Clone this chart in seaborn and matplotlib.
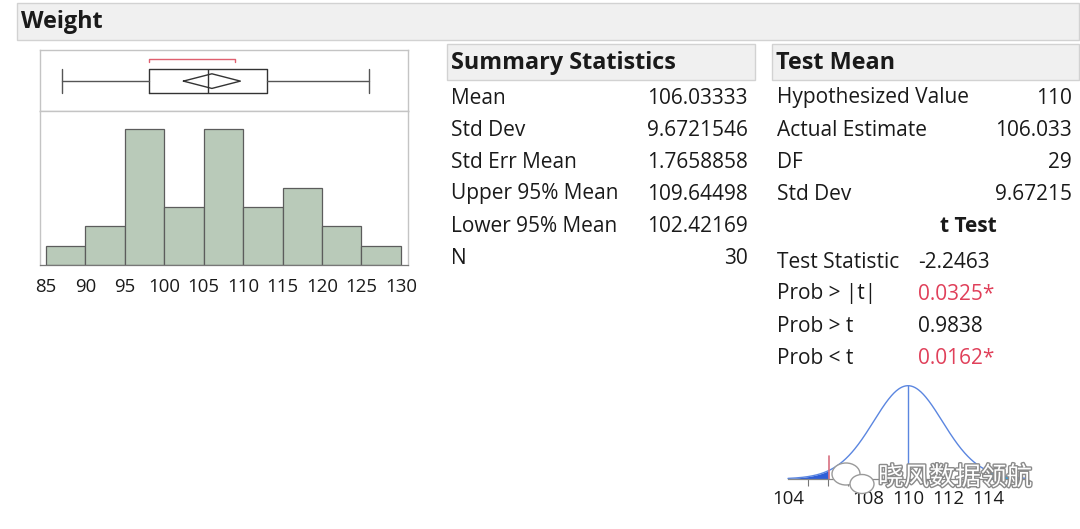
import math
import numpy as np
import pandas as pd
import matplotlib
matplotlib.use("Agg")
import matplotlib.pyplot as plt
import matplotlib.patheffects as pe
from matplotlib.patches import Rectangle, Ellipse
import seaborn as sns

# ---------------- data ----------------
bin_edges = [85, 90, 95, 100, 105, 110, 115, 120, 125, 130]
bin_counts = [1, 2, 7, 3, 7, 3, 4, 2, 1]
hist_ticks = [85, 90, 95, 100, 105, 110, 115, 120, 125, 130]

box_whisker_low = 87
box_q1 = 98
box_median = 105.5
box_q3 = 113
box_whisker_high = 126
shortest_half = [98, 109]

mean_value = 106.03333
std_err = 1.7658858
upper95 = 109.64498
lower95 = 102.42169
dof = 29
hyp_value = 110

summary_labels = ["Mean", "Std Dev", "Std Err Mean", "Upper 95% Mean", "Lower 95% Mean", "N"]
summary_values = ["106.03333", "9.6721546", "1.7658858", "109.64498", "102.42169", "30"]

test_labels = ["Hypothesized Value", "Actual Estimate", "DF", "Std Dev"]
test_values = ["110", "106.033", "29", "9.67215"]
ttest_labels = ["Test Statistic", "Prob > |t|", "Prob > t", "Prob < t"]
ttest_values = ["-2.2463", "0.0325*", "0.9838", "0.0162*"]
ttest_red = [False, True, False, True]
t_ticks = [104, 108, 110, 112, 114]
t_range = [104, 116]

# ---------------- style ----------------
sns.set_theme(style="white")
plt.rcParams["font.family"] = ["Open Sans", "Noto Sans CJK SC", "DejaVu Sans"]

W, H = 1080, 529
fig = plt.figure(figsize=(W / 100, H / 100), dpi=100)
fig.patch.set_facecolor("white")

RED = "#e0405a"
TXT = "#1a1a1a"
FS = 15.0
TFS = 13.4
HFS = 16.8


def fx(x):
    return x / W


def fy(y):
    return 1 - y / H


def px_axes(x0, y0, x1, y1):
    return fig.add_axes([x0 / W, 1 - y1 / H, (x1 - x0) / W, (y1 - y0) / H])


def header_box(x0, y0, x1, y1, text, size):
    fig.patches.append(Rectangle((fx(x0), fy(y1)), (x1 - x0) / W, (y1 - y0) / H,
                                 transform=fig.transFigure, facecolor="#f0f0f0",
                                 edgecolor="#d2d2d2", linewidth=1.0, zorder=0))
    fig.text(fx(x0 + 4), fy((y0 + y1) / 2 + 1), text, fontsize=size, fontweight="bold",
             color=TXT, va="center", ha="left")


# title bar
header_box(17, 3, 1079, 40, "Weight", HFS)

# ---------------- box plot ----------------
xlim = (84.24, 130.9)
axb = px_axes(40, 50, 408, 111)
axb.set_xlim(*xlim)
axb.set_ylim(0, 1)
stats = [dict(whislo=box_whisker_low, q1=box_q1, med=box_median, q3=box_q3,
              whishi=box_whisker_high, fliers=[])]
axb.bxp(stats, positions=[0.49], widths=0.39, capwidths=0.39, vert=False,
        showfliers=False,
        boxprops=dict(color="#333333", linewidth=1.0),
        medianprops=dict(color="#333333", linewidth=1.0),
        whiskerprops=dict(color="#555555", linewidth=1.0),
        capprops=dict(color="#555555", linewidth=1.0))
dh = 0.12
axb.plot([lower95, mean_value, upper95, mean_value, lower95],
         [0.49, 0.49 + dh, 0.49, 0.49 - dh, 0.49], color="#333333", linewidth=1.0)
axb.plot([shortest_half[0], shortest_half[0], shortest_half[1], shortest_half[1]],
         [0.80, 0.86, 0.86, 0.80], color="#e06070", linewidth=1.0)
axb.set_xticks([])
axb.set_yticks([])
for s in axb.spines.values():
    s.set_color("#c4c4c4")
    s.set_linewidth(1.0)

# ---------------- histogram ----------------
axh = px_axes(40, 111, 408, 265)
centers = [(a + b) / 2 for a, b in zip(bin_edges[:-1], bin_edges[1:])]
df_hist = pd.DataFrame({"Weight": centers, "count": bin_counts})
sns.histplot(data=df_hist, x="Weight", weights="count", bins=bin_edges, ax=axh,
             color="#b9cab9", edgecolor="#5c5c5c", linewidth=0.9, alpha=1.0)
axh.set_xlim(*xlim)
axh.set_ylim(0, 7.95)
axh.set_xticks(hist_ticks)
axh.set_xticklabels([str(t) for t in hist_ticks], fontsize=TFS, color=TXT)
axh.set_yticks([])
axh.set_xlabel("")
axh.set_ylabel("")
axh.tick_params(axis="x", direction="out", length=5, width=0.8, color="#777777", pad=4.5)
for k in ["left", "right", "top"]:
    axh.spines[k].set_color("#c4c4c4")
    axh.spines[k].set_linewidth(1.0)
axh.spines["bottom"].set_color("#777777")
axh.spines["bottom"].set_linewidth(0.9)

# ---------------- summary statistics ----------------
header_box(447, 44, 755, 80, "Summary Statistics", HFS)
for i, (lab, val) in enumerate(zip(summary_labels, summary_values)):
    y = 98 + 32 * i
    fig.text(fx(451), fy(y), lab, fontsize=FS, color=TXT, va="center", ha="left")
    fig.text(fx(748), fy(y), val, fontsize=FS, color=TXT, va="center", ha="right")

# ---------------- test mean ----------------
header_box(772, 44, 1079, 80, "Test Mean", HFS)
for i, (lab, val) in enumerate(zip(test_labels, test_values)):
    y = 98 + 32 * i
    fig.text(fx(777), fy(y), lab, fontsize=FS, color=TXT, va="center", ha="left")
    fig.text(fx(1072), fy(y), val, fontsize=FS, color=TXT, va="center", ha="right")
fig.text(fx(968), fy(227), "t Test", fontsize=FS, fontweight="bold", color=TXT,
         va="center", ha="center")
for i, (lab, val, red) in enumerate(zip(ttest_labels, ttest_values, ttest_red)):
    y = 262 + 32 * i
    fig.text(fx(777), fy(y), lab, fontsize=FS, color=TXT, va="center", ha="left")
    fig.text(fx(918), fy(y), val, fontsize=FS, color=RED if red else TXT,
             va="center", ha="left")

# ---------------- t distribution ----------------
axt = px_axes(785, 372, 1045, 479)
c = math.gamma((dof + 1) / 2) / (math.sqrt(dof * math.pi) * math.gamma(dof / 2))
xs = np.linspace(t_range[0], t_range[1], 400)
dens = c * (1 + ((xs - hyp_value) / std_err) ** 2 / dof) ** (-(dof + 1) / 2) / std_err
peak = c / std_err
df_t = pd.DataFrame({"x": xs, "density": dens})
sns.lineplot(data=df_t, x="x", y="density", ax=axt, color="#5b86e0", linewidth=1.0)
lo_tail = xs <= mean_value
hi_tail = xs >= 2 * hyp_value - mean_value
axt.fill_between(xs[lo_tail], 0, dens[lo_tail], color="#2f5fd8", linewidth=0)
axt.fill_between(xs[hi_tail], 0, dens[hi_tail], color="#2fa4e0", linewidth=0)
axt.plot([hyp_value, hyp_value], [0, peak], color="#5b86e0", linewidth=1.0)
axt.plot([mean_value, mean_value], [0, peak * 23 / 93.3], color="#d87080", linewidth=1.2)
axt.set_xlim(104 - 3 / 20, 110 + (1045 - 908) / 20)
axt.set_ylim(0, peak * 107 / 93.3)
axt.set_xticks(t_ticks)
axt.set_xticklabels([str(t) for t in t_ticks], fontsize=TFS, color=TXT)
axt.set_xticks(np.arange(104, 117, 1), minor=True)
axt.tick_params(axis="x", which="major", direction="out", length=5, width=0.8,
                color="#777777", pad=3)
axt.tick_params(axis="x", which="minor", direction="out", length=5, width=0.8,
                color="#777777", bottom=True)
axt.set_yticks([])
axt.set_xlabel("")
axt.set_ylabel("")
for k in ["left", "right", "top"]:
    axt.spines[k].set_visible(False)
axt.spines["bottom"].set_color("#888888")
axt.spines["bottom"].set_linewidth(0.9)
axt.spines["bottom"].set_bounds(t_range[0], t_range[1])
axt.patch.set_alpha(0)

# ---------------- watermark ----------------
for (cx, cy, w, h) in [(846, 474, 28, 22), (862, 484, 24, 19)]:
    fig.patches.append(Ellipse((fx(cx), fy(cy)), w / W, h / H, transform=fig.transFigure,
                               facecolor="white", edgecolor="#9a9a9a", linewidth=1.0,
                               zorder=5))
fig.text(fx(878), fy(478), "晓风数据领航", fontsize=18.5, color="white",
         family=["Noto Sans CJK SC", "DejaVu Sans"], va="center", ha="left", zorder=6,
         path_effects=[pe.withStroke(linewidth=2.0, foreground="#8a8a8a")])

fig.savefig("out.png", dpi=100, facecolor="white")
